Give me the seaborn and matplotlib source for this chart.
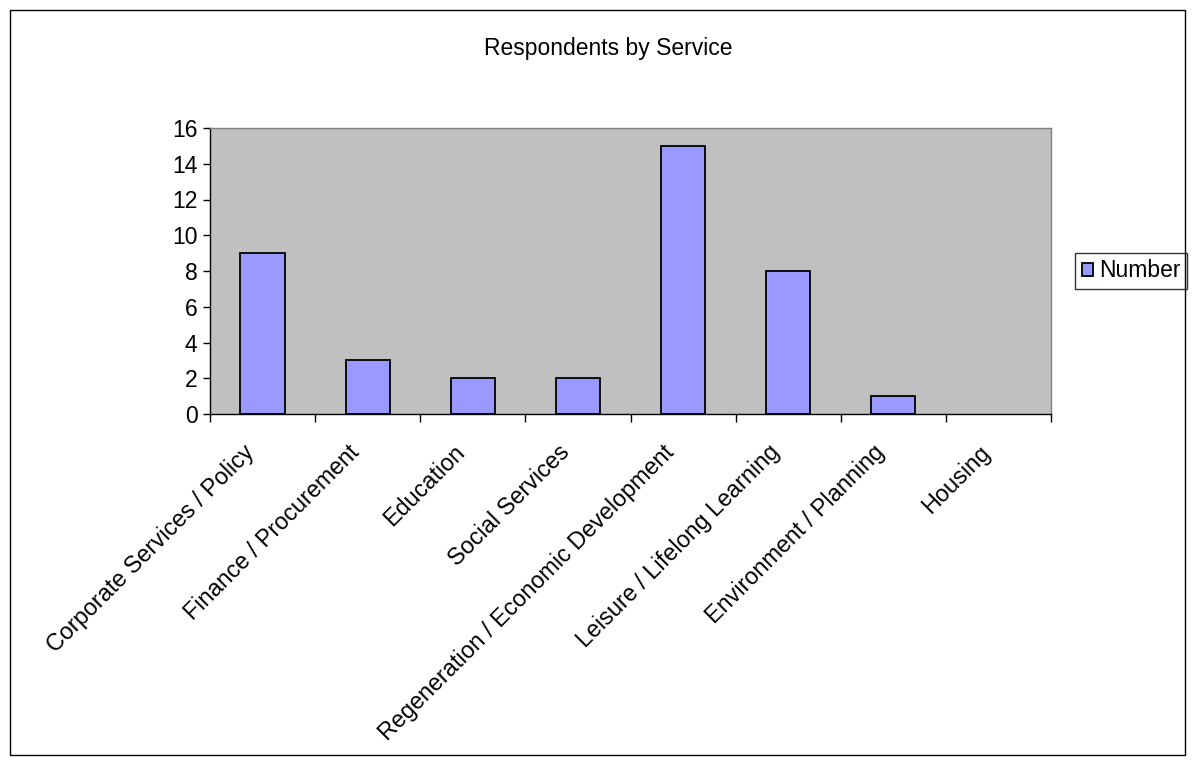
import matplotlib
matplotlib.use("Agg")
import matplotlib.pyplot as plt
import matplotlib.transforms as mtransforms
import seaborn as sns
import numpy as np
from matplotlib.patches import Rectangle

categories = ["Corporate Services / Policy", "Finance / Procurement", "Education",
              "Social Services", "Regeneration / Economic Development",
              "Leisure / Lifelong Learning", "Environment / Planning", "Housing"]
values = [9, 3, 2, 2, 15, 8, 1, 0]
yticks = [0, 2, 4, 6, 8, 10, 12, 14, 16]

sns.set_style("white")
plt.rcParams['font.family'] = ['Liberation Sans', 'DejaVu Sans']
plt.rcParams['text.color'] = 'black'
plt.rcParams['xtick.color'] = 'black'
plt.rcParams['ytick.color'] = 'black'

FS = 16.5

fig = plt.figure(figsize=(11.95, 7.62), dpi=100)
ax = fig.add_axes([210/1195, 1-414/762, (1051-210)/1195, (414-128)/762])
ax.set_facecolor('#C0C0C0')

sns.barplot(x=categories, y=values, color='#9999FF', edgecolor='black',
            linewidth=1.3, width=0.42, saturation=1, ax=ax, label='Number')
for p in ax.patches:
    if p.get_height() == 0:
        p.set_linewidth(0)

ax.set_xlim(-0.5, len(categories) - 0.5)
ax.set_ylim(0, 16)
ax.set_yticks(yticks)
ax.set_yticklabels([str(t) for t in yticks], fontsize=FS)
ax.tick_params(axis='y', length=5, width=1, color='black', direction='out', pad=4, left=True)

ax.set_xticks(np.arange(len(categories) + 1) - 0.5)
ax.set_xticklabels([])
ax.tick_params(axis='x', which='major', length=6, width=1, color='black', direction='out', bottom=True)

# category labels, rotated 45 degrees, anchored just below each category centre
label_tf = ax.get_xaxis_transform() + mtransforms.ScaledTranslation(-12/100, -35/100, fig.dpi_scale_trans)
for i, name in enumerate(categories):
    ax.text(i, 0, name, transform=label_tf, rotation=45, ha='right', va='center',
            rotation_mode='anchor', fontsize=16.8, color='black')

ax.set_xlabel('')
ax.set_ylabel('')
for s in ['left', 'bottom']:
    ax.spines[s].set_color('black')
    ax.spines[s].set_linewidth(1)
for s in ['top', 'right']:
    ax.spines[s].set_color('#808080')
    ax.spines[s].set_linewidth(1)

fig.text(608/1195, 1 - 48/762, 'Respondents by Service', ha='center', va='center', fontsize=FS)

leg = ax.legend(loc='center left', bbox_to_anchor=(1075/1195, 1 - 271/762),
                bbox_transform=fig.transFigure, frameon=True, fancybox=False,
                fontsize=FS, handlelength=0.5, handleheight=0.5, handletextpad=0.25,
                borderpad=0.3, borderaxespad=0)
leg.get_frame().set_edgecolor('black')
leg.get_frame().set_linewidth(1)

fig.patches.append(Rectangle((10/1195, 1 - 755/762), 1175/1195, 745/762,
                             transform=fig.transFigure, fill=False,
                             edgecolor='black', linewidth=1))

fig.savefig('out.png', dpi=100, facecolor='white')
